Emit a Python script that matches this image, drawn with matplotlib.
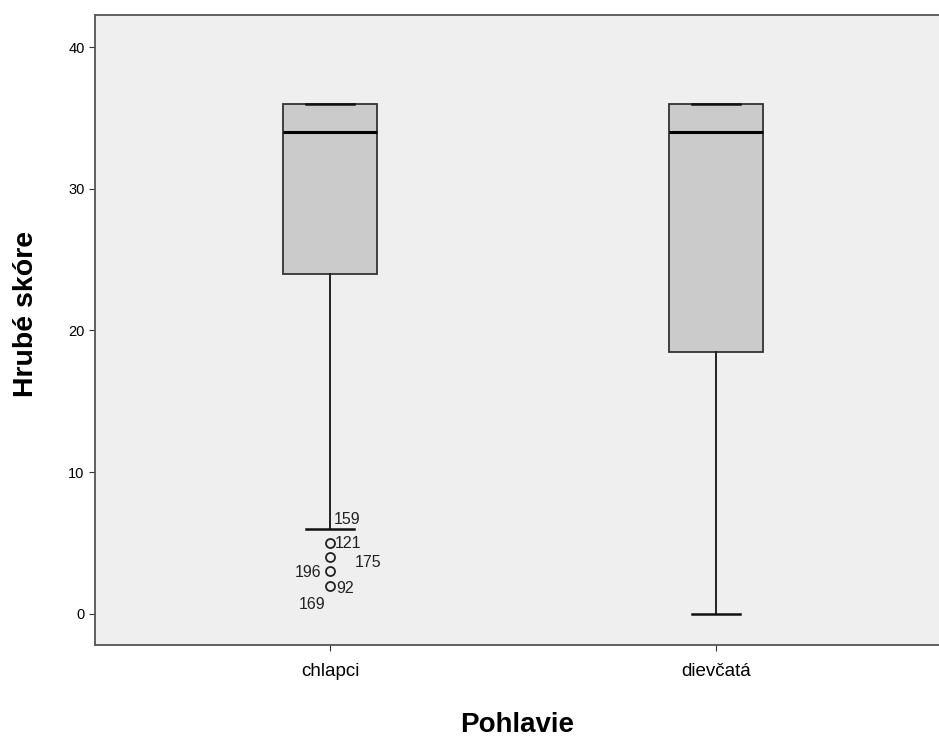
import matplotlib.pyplot as plt

# summary values
groups = ['chlapci', 'dievčatá']
q1 = [24, 18.5]
medians = [34, 34]
q3 = [36, 36]
whislo = [6, 0]
whishi = [36, 36]

# outliers of the first group (chlapci)
outlier_vals = [5, 4, 3, 2]
outlier_ids = ['159', '121', '175', '196', '92', '169']
id_x = [1.010, 1.013, 1.065, 0.978, 1.015, 0.920]
id_y = [6.7, 5.0, 3.6, 2.96, 1.83, 0.7]
id_ha = ['left', 'left', 'left', 'right', 'left', 'left']

plt.rcParams['font.family'] = ['Liberation Sans', 'DejaVu Sans']

fig = plt.figure(figsize=(9.39, 7.38), dpi=100)
ax = fig.add_axes([0.1012, 0.126, 0.8988, 0.8537])
ax.set_facecolor('#efefef')

stats = []
for i in range(len(groups)):
    stats.append({
        'label': groups[i],
        'q1': q1[i], 'med': medians[i], 'q3': q3[i],
        'whislo': whislo[i], 'whishi': whishi[i],
        'fliers': outlier_vals if i == 0 else [],
    })

ax.bxp(stats, positions=[1, 2], widths=0.245, patch_artist=True,
       boxprops=dict(facecolor='#cbcbcb', edgecolor='#333333', linewidth=1.3),
       medianprops=dict(color='black', linewidth=2.2),
       whiskerprops=dict(color='#222222', linewidth=1.4),
       capprops=dict(color='#111111', linewidth=1.8),
       capwidths=[0.125, 0.125],
       flierprops=dict(marker='o', markerfacecolor='none', markeredgecolor='#222222',
                       markersize=6.5, markeredgewidth=1.3))

for i in range(len(outlier_ids)):
    ax.text(id_x[i], id_y[i], outlier_ids[i], ha=id_ha[i], va='center',
            fontsize=11.5, color='#222222')

ax.set_xlim(0.391, 2.578)
ax.set_ylim(-2.19, 42.26)
ax.set_yticks([0, 10, 20, 30, 40])
ax.tick_params(axis='y', labelsize=10.5, length=4, color='#333333')
ax.tick_params(axis='x', labelsize=13.5, length=4, pad=9, color='#333333')

for side in ['left', 'top', 'bottom']:
    ax.spines[side].set_color('#555555')
    ax.spines[side].set_linewidth(1.3)
ax.spines['right'].set_visible(False)

ax.set_ylabel('Hrubé skóre', fontsize=20.5, fontweight='bold')
ax.set_xlabel('Pohlavie', fontsize=20, fontweight='bold')
ax.xaxis.set_label_coords(0.5, -0.107)
ax.yaxis.set_label_coords(-0.066, 0.525)

fig.savefig('out.png', dpi=100, facecolor='white')
